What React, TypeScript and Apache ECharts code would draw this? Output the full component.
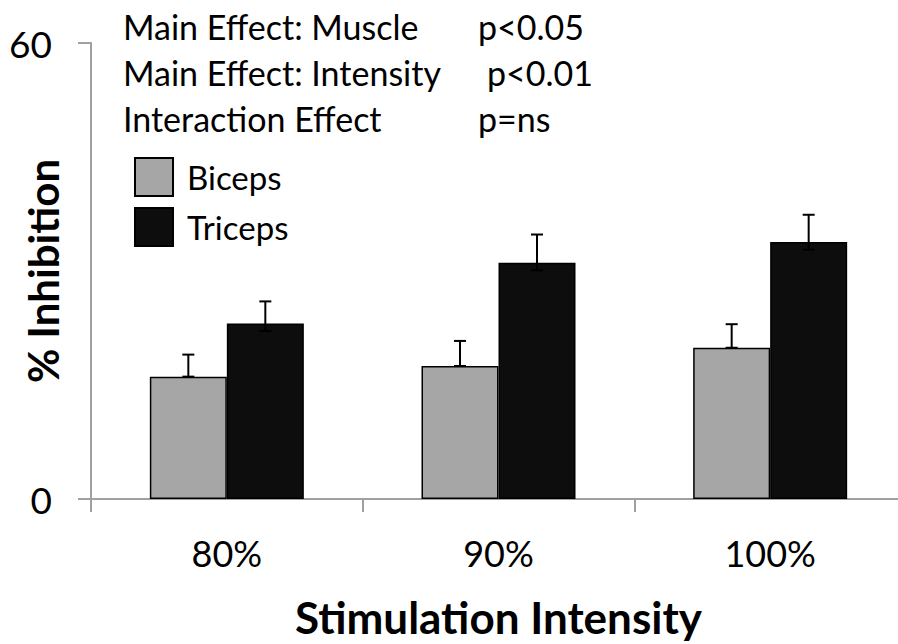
import React, { useEffect, useRef } from "react";
import * as echarts from "echarts";

const categories = ["80%", "90%", "100%"];
const bicepsValues = [16.1, 17.5, 19.9];
const tricepsValues = [23.1, 31.1, 33.8];
const bicepsErrorTop = [19.0, 20.8, 23.0];
const tricepsErrorTop = [26.0, 34.8, 37.4];
const tricepsErrorLow = [22.1, 30.1, 32.8];
const yTicks = [0, 60];

const BAR_WIDTH = 77;
const FONT = "Lato, 'Open Sans', sans-serif";
const AXIS_COLOR = "#a0a0a0";
const ANN = `34px ${FONT}`;

export default function App() {
  const ref = useRef<HTMLDivElement>(null);

  useEffect(() => {
    if (!ref.current) return;
    const chart = echarts.init(ref.current, undefined, { renderer: "svg" });

    const errData: any[] = [];
    categories.forEach((_, i) => {
      errData.push([i, bicepsValues[i], bicepsErrorTop[i], bicepsValues[i], -1]);
      errData.push([i, tricepsValues[i], tricepsErrorTop[i], tricepsErrorLow[i], 1]);
    });

    const option: any = {
      animation: false,
      backgroundColor: "#ffffff",
      textStyle: { fontFamily: FONT },
      grid: {
        left: 91,
        top: 43,
        bottom: 145,
        right: -8,
        containLabel: false,
        outerBoundsMode: "none",
      },
      legend: {
        orient: "vertical",
        left: 129,
        top: 152,
        icon: "rect",
        itemWidth: 38,
        itemHeight: 38,
        itemGap: 10,
        data: ["Biceps", "Triceps"],
        textStyle: { fontSize: 33, color: "#000", fontFamily: FONT, padding: [0, 0, 0, 9] },
      },
      xAxis: {
        type: "category",
        data: categories,
        name: "Stimulation Intensity",
        nameLocation: "middle",
        nameGap: 96,
        nameMoveOverlap: false,
        nameTextStyle: { fontSize: 44, fontWeight: "bold", color: "#000", fontFamily: FONT },
        axisLine: { lineStyle: { color: AXIS_COLOR, width: 2 } },
        axisTick: { show: true, alignWithLabel: false, length: 13, lineStyle: { color: AXIS_COLOR, width: 2 } },
        axisLabel: { fontSize: 36, color: "#000", margin: 36, fontFamily: FONT },
        splitLine: { show: false },
      },
      yAxis: {
        type: "value",
        min: yTicks[0],
        max: yTicks[1],
        interval: yTicks[1] - yTicks[0],
        name: "% Inhibition",
        nameLocation: "middle",
        nameGap: 27,
        nameMoveOverlap: false,
        nameTextStyle: { fontSize: 42, fontWeight: "bold", color: "#000", fontFamily: FONT },
        axisLine: { show: true, lineStyle: { color: AXIS_COLOR, width: 2 } },
        axisTick: { show: true, length: 13, lineStyle: { color: AXIS_COLOR, width: 2 } },
        axisLabel: { fontSize: 37, color: "#000", margin: 39, fontFamily: FONT },
        splitLine: { show: false },
      },
      series: [
        {
          name: "Biceps",
          type: "bar",
          data: bicepsValues,
          barWidth: BAR_WIDTH,
          barGap: "0%",
          itemStyle: { color: "#a6a6a6", borderColor: "#000", borderWidth: 1.5 },
        },
        {
          name: "Triceps",
          type: "bar",
          data: tricepsValues,
          barWidth: BAR_WIDTH,
          barGap: "0%",
          itemStyle: { color: "#0d0d0d", borderColor: "#000", borderWidth: 1.5 },
        },
        {
          type: "custom",
          name: "errors",
          data: errData,
          z: 10,
          silent: true,
          renderItem: (params: any, api: any) => {
            const cat = api.value(0);
            const val = api.value(1);
            const hi = api.value(2);
            const lo = api.value(3);
            const side = api.value(4);
            const base = api.coord([cat, val]);
            const x = base[0] + (side * BAR_WIDTH) / 2;
            const yHi = api.coord([cat, hi])[1];
            const yLo = api.coord([cat, lo])[1];
            const cap = 6;
            const style = { stroke: "#000", lineWidth: 2 };
            return {
              type: "group",
              children: [
                { type: "line", shape: { x1: x, y1: yLo, x2: x, y2: yHi }, style },
                { type: "line", shape: { x1: x - cap, y1: yHi, x2: x + cap, y2: yHi }, style },
                { type: "line", shape: { x1: x - cap, y1: yLo, x2: x + cap, y2: yLo }, style },
              ],
            };
          },
        },
      ],
      graphic: [
        { type: "text", x: 123, y: 26, style: { text: "Main Effect: Muscle", font: ANN, fill: "#000", textVerticalAlign: "middle" } },
        { type: "text", x: 478, y: 26, style: { text: "p<0.05", font: ANN, fill: "#000", textVerticalAlign: "middle" } },
        { type: "text", x: 123, y: 72, style: { text: "Main Effect: Intensity", font: ANN, fill: "#000", textVerticalAlign: "middle" } },
        { type: "text", x: 487, y: 72, style: { text: "p<0.01", font: ANN, fill: "#000", textVerticalAlign: "middle" } },
        { type: "text", x: 123, y: 118, style: { text: "Interaction Effect", font: ANN, fill: "#000", textVerticalAlign: "middle" } },
        { type: "text", x: 478, y: 118, style: { text: "p=ns", font: ANN, fill: "#000", textVerticalAlign: "middle" } },
      ],
    };

    chart.setOption(option);
    return () => chart.dispose();
  }, []);

  return <div ref={ref} style={{ width: 898, height: 644, position: "absolute", left: 0, top: 0 }} />;
}
